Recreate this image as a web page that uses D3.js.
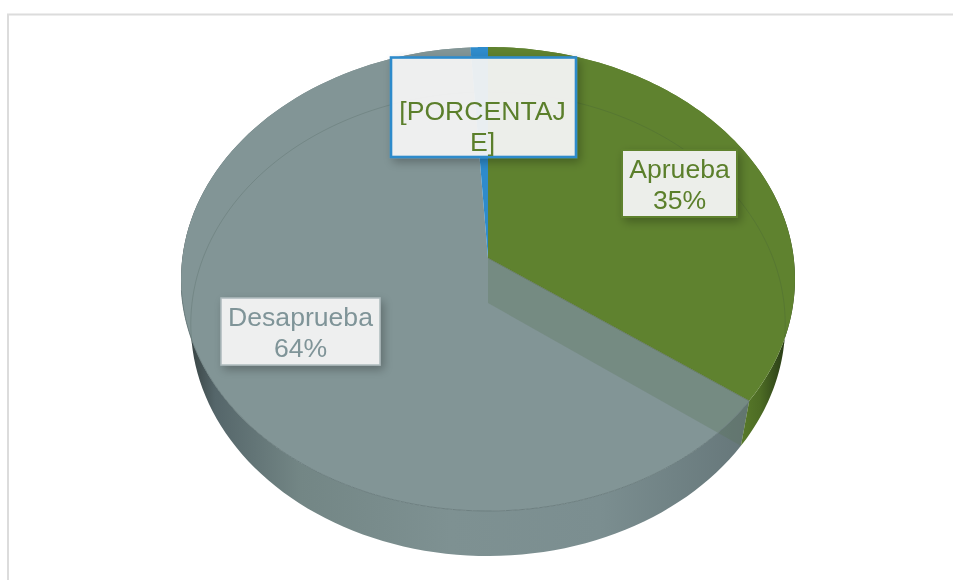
<!DOCTYPE html>
<html><head><meta charset="utf-8">
<script src="https://cdnjs.cloudflare.com/ajax/libs/d3/7.9.0/d3.min.js"></script>
<style>html,body{margin:0;padding:0;background:#fff}svg{display:block;filter:blur(.4px)}text{font-family:"Liberation Sans",Arial,sans-serif}</style>
</head><body><svg id="c" width="953" height="580"></svg>
<script>
const categories = ["Aprueba", "Desaprueba", "Otros"];
const values = [35, 64, 1];
const labelLines = [["Aprueba", "35%"], ["Desaprueba", "64%"], ["[PORCENTAJ", "E]"]];

const svg = d3.select("#c");
svg.append("rect").attr("x", 8).attr("y", 14.5).attr("width", 1000).attr("height", 700)
  .attr("fill", "#fff").attr("stroke", "#dcdcdc").attr("stroke-width", 2);

const topDisc = {x: 488, y: 258, R: 305.7, A: 230.1};
const botDisc = {x: 488, y: 303, R: 296, A: 230.1};
const k = 0.0905;
const deg = Math.PI / 180;
function proj(d, t) {
  const u = Math.sin(t), v = -Math.cos(t), w = 1 - k * v;
  return [d.x + d.R * u / w, d.y + d.A * v / w];
}
const samples = (a, b) => d3.range(0, 121).map(i => a + (b - a) * i / 120);
const line = d3.line();
const arcs = d3.pie().sort(null).value(d => d)(values);

const defs = svg.append("defs");
function grad(id, stops) {
  const g = defs.append("linearGradient").attr("id", id).attr("gradientUnits", "userSpaceOnUse")
    .attr("x1", 181).attr("x2", 795).attr("y1", 0).attr("y2", 0);
  stops.forEach(s => g.append("stop").attr("offset", (s[0] - 181) / 614).attr("stop-color", s[1]));
}
grad("wallGrey", [[188, "#354040"], [215, "#55666a"], [300, "#738685"], [450, "#7e9192"], [600, "#7b8e90"], [745, "#66777a"]]);
grad("wallGreen", [[735, "#5c7e2c"], [760, "#4d6c24"], [778, "#32481a"], [790, "#243412"]]);
const f = defs.append("filter").attr("id", "sh").attr("x", "-20%").attr("y", "-20%").attr("width", "140%").attr("height", "140%");
f.append("feGaussianBlur").attr("in", "SourceAlpha").attr("stdDeviation", 5).attr("result", "b");
f.append("feOffset").attr("in", "b").attr("dx", 3).attr("dy", 4).attr("result", "o");
f.append("feComponentTransfer").attr("in", "o").attr("result", "t").append("feFuncA").attr("type", "linear").attr("slope", 0.28);
f.append("feComposite").attr("in", "t").attr("in2", "SourceAlpha").attr("operator", "out").attr("result", "s");
const m = f.append("feMerge"); m.append("feMergeNode").attr("in", "s"); m.append("feMergeNode").attr("in", "SourceGraphic");

const wall = (a, b) => line(samples(a, b).map(t => proj(topDisc, t)).concat(samples(b, a).map(t => proj(botDisc, t)))) + "Z";
const wedge = a => line([[topDisc.x, topDisc.y]].concat(samples(a.startAngle, a.endAngle).map(t => proj(topDisc, t)))) + "Z";
const [green, grey, blue] = arcs;

// outer walls
svg.append("path").attr("d", wall(grey.startAngle, grey.endAngle)).attr("fill", "url(#wallGrey)");
svg.append("path").attr("d", wall(green.startAngle, green.endAngle)).attr("fill", "url(#wallGreen)");

// top faces
svg.append("path").attr("d", wedge(grey)).attr("fill", "#829596");
svg.append("path").attr("d", wedge(blue)).attr("fill", "#2e8bcb");

// interior wall seen through the translucent face
const e = green.endAngle;
svg.append("path")
  .attr("d", line([[topDisc.x, topDisc.y], proj(topDisc, e), proj(botDisc, e), [botDisc.x, botDisc.y]]) + "Z")
  .attr("fill", "rgba(90,115,85,0.3)");
svg.append("path").attr("d", wedge(green)).attr("fill", "#5f822f");

// apex wedge edge and rims
svg.append("path").attr("d", line([[topDisc.x, topDisc.y], proj(topDisc, e)]))
  .attr("fill", "none").attr("stroke", "rgba(70,90,70,.55)").attr("stroke-width", 0.8);
svg.append("path").attr("d", line(samples(e, 262 * deg).map(t => proj(topDisc, t))))
  .attr("fill", "none").attr("stroke", "#6d7f80").attr("stroke-width", 1);
svg.append("path").attr("d", line(samples(-100 * deg, 100 * deg).map(t => proj(botDisc, t))))
  .attr("fill", "none").attr("stroke", "rgba(50,70,60,.18)").attr("stroke-width", 1);

// labels
const boxes = [
  {x: 622, y: 150, w: 115, h: 67, stroke: "#5f822f", sw: 2},
  {x: 221, y: 298, w: 159, h: 67, stroke: "#aebbbd", sw: 1.5},
  {x: 391, y: 57.5, w: 185, h: 99.5, stroke: "#2e8bcb", sw: 2.6}
];
const textColor = ["#5b7f2b", "#7f9498", "#5b7f2b"];
const textY = [[178, 209], [326, 357], [120, 151]];
boxes.forEach((b, i) => {
  svg.append("rect").attr("x", b.x).attr("y", b.y).attr("width", b.w).attr("height", b.h)
    .attr("fill", "#f3f3f3").attr("fill-opacity", 0.95).attr("stroke", b.stroke).attr("stroke-width", b.sw)
    .attr("filter", "url(#sh)");
  labelLines[i].forEach((s, j) => {
    svg.append("text").attr("x", b.x + b.w / 2 - (i === 2 ? 1 : 0)).attr("y", textY[i][j]).attr("text-anchor", "middle")
      .attr("font-size", 26.6).attr("fill", textColor[i]).text(s);
  });
});
</script></body></html>
